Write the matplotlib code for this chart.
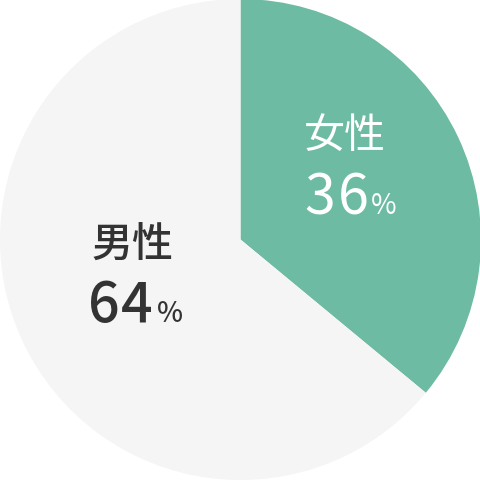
import matplotlib
matplotlib.use("Agg")
import matplotlib.pyplot as plt

labels = ["女性", "男性"]
values = [36, 64]
colors = ["#6dbba2", "#f5f5f5"]
text_colors = ["#ffffff", "#333333"]

plt.rcParams['font.family'] = ['Noto Sans CJK JP', 'DejaVu Sans']

fig = plt.figure(figsize=(4.81, 4.81), dpi=100)
ax = fig.add_axes([0, 0, 1, 1])
ax.pie(values, colors=colors, startangle=90, counterclock=False,
       radius=1.0, wedgeprops=dict(linewidth=0))
ax.set_xlim(-1, 1)
ax.set_ylim(-1, 1)
ax.set_aspect('equal')
ax.axis('off')

# text anchors (data coords)
label_pos = [(0.4345, 0.432), (-0.451, -0.023)]
num_start = [(0.3285, 0.110), (-0.5696, -0.339)]
digit_step = 0.1393
pct_x = [0.5967, -0.294]
weights = ['normal', 'medium']
for lab, v, tc, lp, ns, px, w in zip(labels, values, text_colors, label_pos,
                                     num_start, pct_x, weights):
    ax.text(lp[0], lp[1], lab, ha='center', va='center', fontsize=29.5,
            color=tc, fontweight=w)
    for i, ch in enumerate(str(v)):
        ax.text(ns[0] + i * digit_step, ns[1], ch, ha='center', va='baseline',
                fontsize=40, color=tc, fontweight=w)
    ax.text(px, ns[1], "%", ha='center', va='baseline', fontsize=20,
            color=tc, fontweight=w)

fig.savefig("out.png", dpi=100)
